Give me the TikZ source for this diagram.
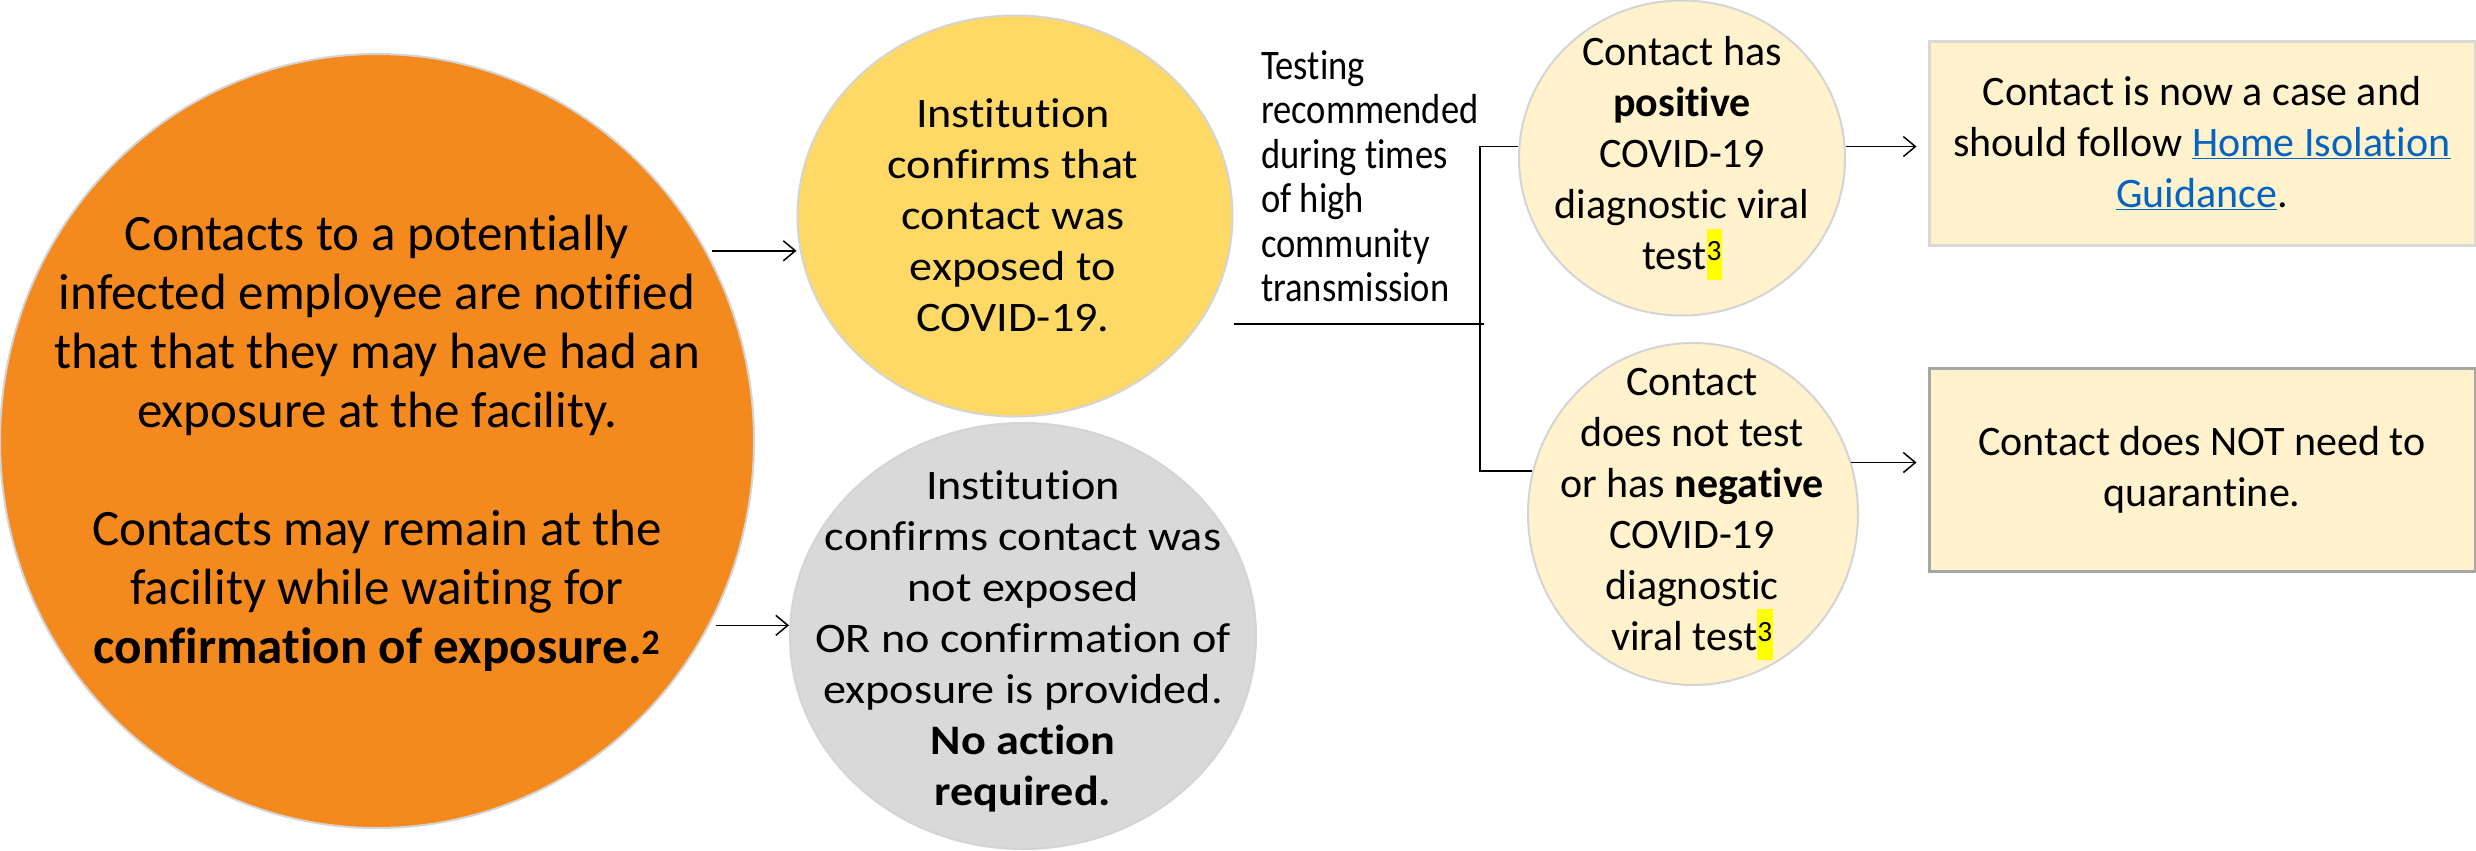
\documentclass[tikz,border=0pt]{standalone}
\usepackage{fontspec}
\setmainfont{Carlito}[Ligatures=NoCommon]
\newfontfamily\widefont[FakeStretch=1.1,Ligatures=NoCommon]{Carlito}
\newfontfamily\slimfont[FakeStretch=0.87,Ligatures=NoCommon]{Carlito}
\usetikzlibrary{shapes.geometric,arrows.meta}
\definecolor{orangefill}{HTML}{F4891E}
\definecolor{goldfill}{HTML}{FFD966}
\definecolor{greyfill}{HTML}{D9D9D9}
\definecolor{creamfill}{HTML}{FFF2CC}
\definecolor{rimgrey}{HTML}{D4D4D4}
\definecolor{darkrim}{HTML}{A6A6A6}
\definecolor{linkblue}{HTML}{0563C1}
\definecolor{markyellow}{HTML}{FFFF00}
\newcommand{\refmark}[1]{{\setlength{\fboxsep}{0pt}\colorbox{markyellow}{\rule[-10pt]{0pt}{51pt}\textsuperscript{#1}}}}
\newcommand{\weblink}[1]{\textcolor{linkblue}{\underline{#1}}}
\begin{document}
\begin{tikzpicture}[x=1pt,y=-1pt,
  blob/.style={ellipse, draw=rimgrey, line width=2pt, inner sep=0pt},
  note/.style={align=center, inner sep=0pt},
  card/.style={rectangle, fill=creamfill, line width=3pt, inner sep=0pt, minimum width=546pt, minimum height=203pt, align=center, font=\fontsize{42}{51}\selectfont},
  arr/.style={-{Straight Barb[length=12pt,width=20pt]}, line width=1.5pt},
  link/.style={line width=1.5pt}]
\useasboundingbox[fill=white] (0,0) rectangle (2476,851);
% circles
\node[blob, fill=orangefill, minimum width=754pt, minimum height=774pt] (notice) at (377,441) {};
\node[blob, fill=goldfill, minimum width=435pt, minimum height=401pt] (exposed) at (1015,216) {};
\node[blob, fill=greyfill, minimum width=466pt, minimum height=426pt] (cleared) at (1023,636) {};
\node[blob, fill=creamfill, minimum width=326pt, minimum height=315pt] (positive) at (1682,158) {};
\node[blob, fill=creamfill, minimum width=330pt, minimum height=342pt] (negative) at (1693,514) {};
% texts
\node[note, font=\fontsize{51}{59}\selectfont] (noticetext) at (377,443) {Contacts to a potentially\\ infected employee are notified\\ that that they may have had an\\ exposure at the facility.\\[59pt] Contacts may remain at the\\ facility while waiting for\\ \textbf{confirmation of exposure.\textsuperscript{2}}};
\node[note, font=\widefont\fontsize{42}{51}\selectfont] (exposedtext) at (1013,215) {Institution\\ confirms that\\ contact was\\ exposed to\\ COVID-19.};
\node[note, font=\widefont\fontsize{42}{51}\selectfont] (clearedtext) at (1023,641) {Institution\\ confirms contact was\\ not exposed\\ OR no confirmation of\\ exposure is provided.\\ \textbf{No action}\\ \textbf{required.}};
\node[anchor=west, align=left, inner sep=0pt, font=\slimfont\fontsize{42}{44.5}\selectfont] (advice) at (1261,176) {Testing\\ recommended\\ during times\\ of high\\ community\\ transmission};
\node[note, font=\fontsize{42}{51}\selectfont] (positivetext) at (1682,158) {Contact has\\ \textbf{positive}\\ COVID-19\\ diagnostic viral\\ test\refmark{3}};
\node[note, font=\fontsize{42}{51}\selectfont] (negativetext) at (1692,514) {Contact\\ does not test\\ or has \textbf{negative}\\ COVID-19\\ diagnostic\\ viral test\refmark{3}};
% boxes
\node[card, draw=greyfill] (isolate) at (2202,143.5) {Contact is now a case and\\ should follow \weblink{Home Isolation}\\ \weblink{Guidance}.};
\node[card, draw=darkrim] (release) at (2202,470) {Contact does NOT need to\\ quarantine.};
% connectors
\coordinate (split) at (1480,324);
\draw[arr] ([xshift=6pt]notice.30) -- (notice.30 -| exposed.west);
\draw[arr] ([xshift=6pt]notice.-29) -- (notice.-29 -| cleared.west);
\draw[link] (exposed.east |- split) -- ([xshift=4pt]split);
\draw[link] (positive.176) -| (split) |- (negative.165);
\draw[arr] (positive.4) -- ([xshift=-11pt]positive.4 -| isolate.west);
\draw[arr] (negative.18) -- ([xshift=-11pt]negative.18 -| release.west);
\end{tikzpicture}
\end{document}
